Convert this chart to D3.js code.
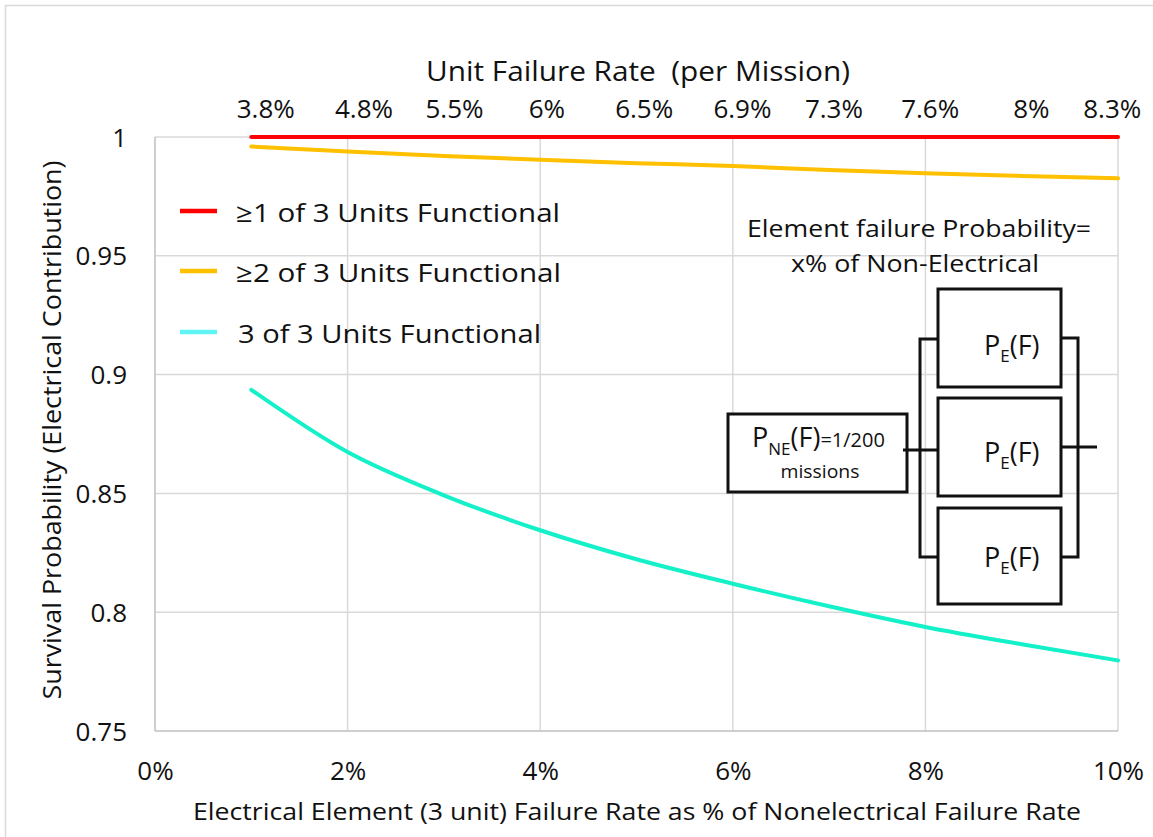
<!DOCTYPE html>
<html><head><meta charset="utf-8">
<script src="https://cdn.jsdelivr.net/npm/d3@7"></script>
<style>
html,body{margin:0;padding:0;background:#fff;}
svg text{font-family:"Open Sans",sans-serif;fill:#111;}
</style></head>
<body><svg id="chart" width="1153" height="837"></svg>
<script>
// ---- data ----
const xPct = [1,2,3,4,5,6,7,8,9,10];                 // electrical failure rate as % of non-electrical
const atLeast1 = [1,1,1,1,1,1,1,1,1,1];
const atLeast2 = [0.9960,0.9939,0.9920,0.9904,0.9890,0.9878,0.9861,0.9847,0.9836,0.9826];
const all3     = [0.8936,0.8674,0.8492,0.8345,0.8223,0.8120,0.8025,0.7938,0.7865,0.7797];
const seriesNames = ["≥1 of 3 Units Functional","≥2 of 3 Units Functional","3 of 3 Units Functional"];
const topLabels = ["3.8%","4.8%","5.5%","6%","6.5%","6.9%","7.3%","7.6%","8%","8.3%"];
const topLabelPos = [1.15,2.17,3.11,4.07,5.08,6.10,7.05,8.05,9.10,9.94];
const xTicks = [0,2,4,6,8,10];
const yTicks = [0.75,0.8,0.85,0.9,0.95,1];

const svg = d3.select("#chart");
const x = d3.scaleLinear().domain([0,10]).range([155,1118]);
const y = d3.scaleLinear().domain([0.75,1]).range([731,137]);

// outer frame
svg.append("path").attr("d","M5.5,837 L5.5,5.5 L1153,5.5").attr("fill","none").attr("stroke","#d9d9d9").attr("stroke-width",1.5);

// gridlines
const grid = svg.append("g");
grid.selectAll(".gh").data(yTicks.slice(1)).join("line")
  .attr("x1",x(0)).attr("x2",x(10)).attr("y1",d=>y(d)).attr("y2",d=>y(d))
  .attr("stroke","#d9d9d9").attr("stroke-width",1.5);
grid.selectAll(".gv").data(xTicks.slice(1)).join("line")
  .attr("x1",d=>x(d)).attr("x2",d=>x(d)).attr("y1",y(0.75)).attr("y2",y(1))
  .attr("stroke","#d9d9d9").attr("stroke-width",1.5);
// axis lines
svg.append("line").attr("x1",x(0)).attr("x2",x(0)).attr("y1",y(0.75)).attr("y2",y(1)).attr("stroke","#bfbfbf").attr("stroke-width",1.5);
svg.append("line").attr("x1",x(0)).attr("x2",x(10)).attr("y1",y(0.75)).attr("y2",y(0.75)).attr("stroke","#bfbfbf").attr("stroke-width",1.5);

// bottom axis
const xAxis = d3.axisBottom(x).tickValues(xTicks).tickFormat(d=>d+"%").tickSize(0).tickPadding(0);
const gx = svg.append("g").attr("transform",`translate(0,${y(0.75)})`).call(xAxis);
gx.select(".domain").remove();
gx.selectAll("text").attr("dy",null).attr("y",49).attr("font-size",26).attr("font-family","Open Sans").attr("fill","#111");

// left axis
const yAxis = d3.axisLeft(y).tickValues(yTicks).tickFormat(d=>d===1?"1":String(d)).tickSize(0).tickPadding(0);
const gy = svg.append("g").attr("transform",`translate(127,0)`).call(yAxis);
gy.select(".domain").remove();
gy.selectAll("text").attr("dy","0.35em").attr("font-size",26).attr("font-family","Open Sans").attr("fill","#111");

// top labels
svg.append("text").attr("x",638).attr("y",81).attr("text-anchor","middle").attr("font-size",27)
  .attr("textLength",424).attr("lengthAdjust","spacingAndGlyphs").attr("xml:space","preserve")
  .text("Unit Failure Rate  (per Mission)");
svg.selectAll(".tl").data(topLabels).join("text")
  .attr("x",(d,i)=>x(topLabelPos[i])).attr("y",118).attr("text-anchor","middle").attr("font-size",26)
  .text(d=>d);

// axis titles
svg.append("text").attr("x",637).attr("y",820).attr("text-anchor","middle").attr("font-size",24)
  .attr("textLength",888).attr("lengthAdjust","spacingAndGlyphs")
  .text("Electrical Element (3 unit) Failure Rate as % of Nonelectrical Failure Rate");
svg.append("text").attr("transform","translate(61,430) rotate(-90)").attr("text-anchor","middle").attr("font-size",25)
  .attr("textLength",539).attr("lengthAdjust","spacingAndGlyphs")
  .text("Survival Probability (Electrical Contribution)");

// series lines
const series = [
  {vals:atLeast1, color:"#ff0000", legend:"#ff0000"},
  {vals:atLeast2, color:"#ffc000", legend:"#ffc000"},
  {vals:all3,     color:"#14f0c8", legend:"#5ff5f5"}
];
const line = d3.line().x(d=>x(d[0])).y(d=>y(d[1])).curve(d3.curveMonotoneX);
svg.selectAll(".series").data(series).join("path")
  .attr("d",s=>line(xPct.map((v,i)=>[v,s.vals[i]])))
  .attr("fill","none").attr("stroke",s=>s.color).attr("stroke-width",4).attr("stroke-linecap","round");

// legend
const legY = [211,271,332];
const legW = [324,325,303];
const leg = svg.selectAll(".leg").data(series).join("g").attr("transform",(d,i)=>`translate(0,${legY[i]})`);
leg.append("line").attr("x1",180).attr("x2",217).attr("y1",0).attr("y2",0).attr("stroke",d=>d.legend).attr("stroke-width",4.5);
leg.append("text").attr("x",(d,i)=>i===2?238:236).attr("y",11).attr("font-size",26)
  .attr("textLength",(d,i)=>legW[i]).attr("lengthAdjust","spacingAndGlyphs")
  .text((d,i)=>seriesNames[i]);

// annotation text
svg.append("text").attr("x",919).attr("y",237).attr("text-anchor","middle").attr("font-size",24)
  .attr("textLength",344).attr("lengthAdjust","spacingAndGlyphs").text("Element failure Probability=");
svg.append("text").attr("x",915).attr("y",272).attr("text-anchor","middle").attr("font-size",24)
  .attr("textLength",248).attr("lengthAdjust","spacingAndGlyphs").text("x% of Non-Electrical");

// reliability block diagram (annotation)
const diag = svg.append("g").attr("fill","none").attr("stroke","#111").attr("stroke-width",3);
diag.append("rect").attr("x",728).attr("y",414).attr("width",179).attr("height",78).attr("fill","#fff");
const boxes = [[289,387],[398,496],[508,604]];
boxes.forEach(b=>diag.append("rect").attr("x",938).attr("y",b[0]).attr("width",123).attr("height",b[1]-b[0]).attr("fill","#fff"));
diag.append("path").attr("d","M938,339 L920,339 L920,557 L938,557");
diag.append("path").attr("d","M903,450 L938,450");
diag.append("path").attr("d","M1061,338 L1078,338 L1078,557 L1061,557");
diag.append("path").attr("d","M1061,447 L1097,447");

const peBase = [355,462,567];
peBase.forEach(b=>{
  const t = svg.append("text").attr("x",984).attr("y",b).attr("font-size",27);
  t.append("tspan").text("P");
  t.append("tspan").attr("font-size",17).attr("dy",7).text("E");
  t.append("tspan").attr("dy",-7).text("(F)");
});
const pne = svg.append("text").attr("x",752).attr("y",447).attr("font-size",27);
pne.append("tspan").text("P");
pne.append("tspan").attr("font-size",17).attr("dy",8).text("NE");
pne.append("tspan").attr("dy",-8).text("(F)");
pne.append("tspan").attr("font-size",20).text("=1/200");
svg.append("text").attr("x",820).attr("y",478).attr("text-anchor","middle").attr("font-size",19)
  .attr("textLength",79).attr("lengthAdjust","spacingAndGlyphs").text("missions");
</script></body></html>
